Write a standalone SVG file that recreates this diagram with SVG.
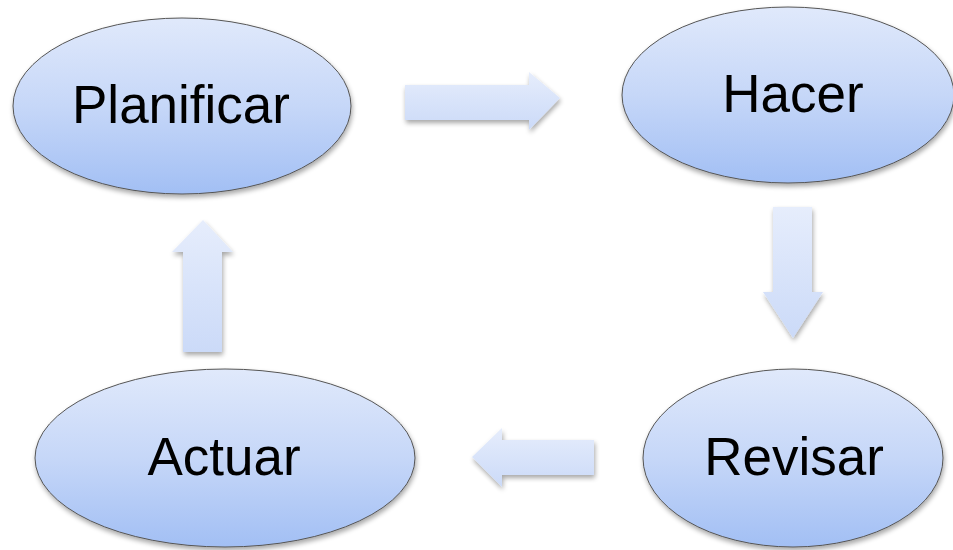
<svg xmlns="http://www.w3.org/2000/svg" width="953" height="550" viewBox="0 0 953 550">
<defs>
<linearGradient id="eg" x1="0" y1="0" x2="0" y2="1">
<stop offset="0" stop-color="#e0e9fb"/>
<stop offset="0.5" stop-color="#c6d7f8"/>
<stop offset="1" stop-color="#a2bff4"/>
</linearGradient>
<linearGradient id="ag" x1="0" y1="0" x2="0" y2="1">
<stop offset="0" stop-color="#e6edfc"/>
<stop offset="1" stop-color="#cbdaf8"/>
</linearGradient>
<filter id="sh" x="-10%" y="-10%" width="125%" height="130%">
<feGaussianBlur in="SourceAlpha" stdDeviation="2.5"/>
<feOffset dx="1" dy="3" result="b"/>
<feComponentTransfer><feFuncA type="linear" slope="0.35"/></feComponentTransfer>
<feMerge><feMergeNode/><feMergeNode in="SourceGraphic"/></feMerge>
</filter>
</defs>
<style>
.node ellipse{fill:url(#eg);stroke:#555;stroke-width:1;filter:url(#sh)}
.node text{font-family:"Liberation Sans","Noto Sans",sans-serif;font-size:53px;fill:#000;text-anchor:middle}
.arrow{fill:url(#ag);stroke:none;filter:url(#sh)}
</style>
<g id="connectors">
<polygon class="arrow" points="405,85 529,85 529,72 560,98 529,130 529,120 405,120"/>
<polygon class="arrow" points="773,207 812,207 812,292 823,292 793,338 763,292 773,292"/>
<polygon class="arrow" points="594,440 502,440 502,428 472,457 502,487 502,475 594,475"/>
<polygon class="arrow" points="183,352 222,352 222,252 233,252 203,220 172,252 183,252"/>
</g>
<g id="planificar" class="node">
<ellipse cx="182" cy="106" rx="169" ry="88"/>
<text x="181" y="123">Planificar</text>
</g>
<g id="hacer" class="node">
<ellipse cx="788" cy="95" rx="166" ry="88"/>
<text x="793" y="112">Hacer</text>
</g>
<g id="revisar" class="node">
<ellipse cx="793" cy="458" rx="150" ry="89"/>
<text x="794" y="475">Revisar</text>
</g>
<g id="actuar" class="node">
<ellipse cx="225" cy="458" rx="190" ry="89"/>
<text x="224" y="475">Actuar</text>
</g>
</svg>
